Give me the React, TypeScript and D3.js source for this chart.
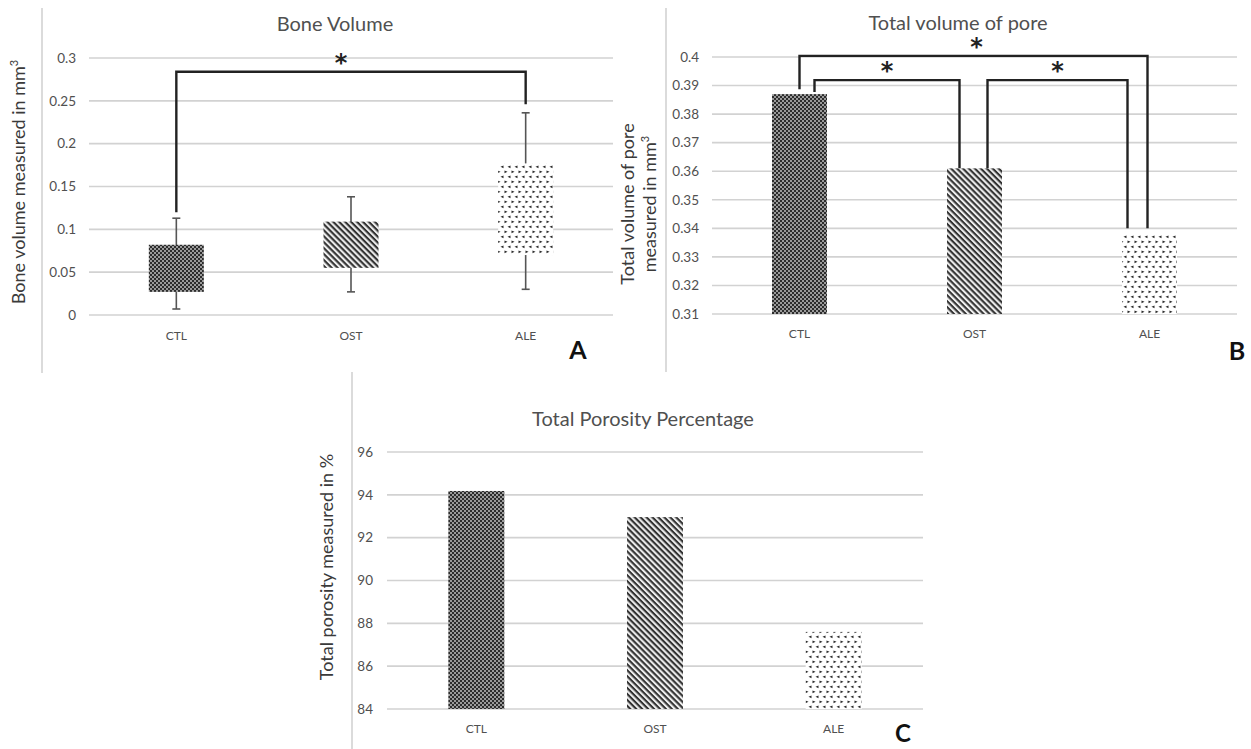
import React from "react";
import * as d3 from "d3";

const categories = ["CTL", "OST", "ALE"];

// Panel A: Bone volume (floating box + whiskers)
const boneBoxLow = [0.027, 0.055, 0.070];
const boneBoxHigh = [0.082, 0.109, 0.177];
const boneWhiskerLow = [0.007, 0.027, 0.030];
const boneWhiskerHigh = [0.113, 0.138, 0.236];
const boneTicks = [0, 0.05, 0.1, 0.15, 0.2, 0.25, 0.3];
const boneTickLabels = ["0", "0.05", "0.1", "0.15", "0.2", "0.25", "0.3"];

// Panel B: Total volume of pore
const poreValues = [0.387, 0.361, 0.3377];
const poreTicks = [0.31, 0.32, 0.33, 0.34, 0.35, 0.36, 0.37, 0.38, 0.39, 0.4];
const poreTickLabels = ["0.31", "0.32", "0.33", "0.34", "0.35", "0.36", "0.37", "0.38", "0.39", "0.4"];

// Panel C: Total porosity percentage
const porosityValues = [94.18, 92.96, 87.6];
const porosityTicks = [84, 86, 88, 90, 92, 94, 96];
const porosityTickLabels = ["84", "86", "88", "90", "92", "94", "96"];

// Significance brackets
const boneSig = [{ from: 0, to: 2, top: 0.284, fromEnd: 0.12, toEnd: 0.246 }];
const poreSig = [
  { from: 0, to: 2, top: 0.4004, fromEnd: 0.3887, toEnd: 0.340 },
  { from: 0, to: 1, top: 0.3919, fromEnd: 0.3877, toEnd: 0.361 },
  { from: 1, to: 2, top: 0.3919, fromEnd: 0.361, toEnd: 0.340 },
];

const patterns = ["pCTL", "pOST", "pALE"];
const FONT = "Lato, 'Open Sans', sans-serif";
const GRID = "#d2d2d2";
const TXT = "#505050";

function Defs() {
  return (
    <defs>
      <pattern id="pCTL" patternUnits="userSpaceOnUse" width={4} height={4}>
        <rect width={4} height={4} fill="#9a9a9a" />
        <rect x={0} y={0} width={2} height={2} fill="#2c2c2c" />
        <rect x={2} y={2} width={2} height={2} fill="#2c2c2c" />
      </pattern>
      <pattern id="pOST" patternUnits="userSpaceOnUse" width={4.2} height={4.2} patternTransform="rotate(45)">
        <rect width={4.2} height={4.2} fill="#eeeeee" />
        <rect x={0} y={0} width={4.2} height={2.1} fill="#333" />
      </pattern>
      <pattern id="pALE" patternUnits="userSpaceOnUse" width={7} height={10}>
        <rect width={7} height={10} fill="#ffffff" />
        <path d="M0.5,0.5 L3.5,1.8 L0.5,3.2 Z" fill="#2a2a2a" />
        <path d="M6.5,5.5 L3.5,6.8 L6.5,8.2 Z" fill="#2a2a2a" />
      </pattern>
    </defs>
  );
}

type Sig = { from: number; to: number; top: number; fromEnd: number; toEnd: number };

function YGrid({ y, ticks, labels, x0, x1, labelX }: any) {
  return (
    <g>
      {ticks.map((t: number, i: number) => (
        <g key={i}>
          <line x1={x0} x2={x1} y1={y(t)} y2={y(t)} stroke={GRID} strokeWidth={1.6} />
          <text x={labelX} y={y(t)} dy="0.35em" textAnchor="end" fontSize={13.5} fill={TXT} fontFamily={FONT}>
            {labels[i]}
          </text>
        </g>
      ))}
    </g>
  );
}

function CatLabels({ x, y }: any) {
  return (
    <g>
      {categories.map((c) => (
        <text key={c} x={x(c)! + x.bandwidth() / 2} y={y} textAnchor="middle" fontSize={12} fill={TXT} fontFamily={FONT}>
          {c}
        </text>
      ))}
    </g>
  );
}

function Brackets({ sigs, x, y, offsets, starDx }: any) {
  const cx = (i: number) => x(categories[i])! + x.bandwidth() / 2;
  return (
    <g>
      {sigs.map((s: Sig, i: number) => {
        const xa = cx(s.from) + offsets[i][0];
        const xb = cx(s.to) + offsets[i][1];
        const yt = y(s.top);
        return (
          <g key={i}>
            <path
              d={`M${xa},${y(s.fromEnd)} V${yt} H${xb} V${y(s.toEnd)}`}
              fill="none"
              stroke="#222"
              strokeWidth={2.4}
            />
            <text x={(xa + xb) / 2 + starDx[i]} y={yt - 1} textAnchor="middle" fontSize={24} fontWeight="bold" fill="#222" fontFamily="'DejaVu Sans', sans-serif">
              *
            </text>
          </g>
        );
      })}
    </g>
  );
}

function PanelA() {
  const x = d3.scaleBand().domain(categories).range([89, 613]);
  const y = d3.scaleLinear().domain([0, 0.3]).range([315, 58]);
  const bw = 55;
  return (
    <g>
      <line x1={42} x2={42} y1={8} y2={373} stroke="#cfcfcf" strokeWidth={1.5} />
      <text x={335} y={31} textAnchor="middle" fontSize={20} fill={TXT} fontFamily={FONT}>Bone Volume</text>
      <text transform="translate(25,182) rotate(-90)" textAnchor="middle" fontSize={18} fill="#3a3a3a" fontFamily={FONT}>
        Bone volume measured in mm<tspan dy="-7" fontSize={11}>3</tspan>
      </text>
      <YGrid y={y} ticks={boneTicks} labels={boneTickLabels} x0={89} x1={613} labelX={76} />
      {categories.map((c, i) => {
        const cx = x(c)! + x.bandwidth() / 2;
        return (
          <g key={c}>
            <line x1={cx} x2={cx} y1={y(boneWhiskerLow[i])} y2={y(boneWhiskerHigh[i])} stroke="#555" strokeWidth={1.6} />
            <line x1={cx - 4} x2={cx + 4} y1={y(boneWhiskerLow[i])} y2={y(boneWhiskerLow[i])} stroke="#555" strokeWidth={1.6} />
            <line x1={cx - 4} x2={cx + 4} y1={y(boneWhiskerHigh[i])} y2={y(boneWhiskerHigh[i])} stroke="#555" strokeWidth={1.6} />
            <rect x={cx - bw / 2} y={y(boneBoxHigh[i])} width={bw} height={y(boneBoxLow[i]) - y(boneBoxHigh[i])} fill={`url(#${patterns[i]})`} />
          </g>
        );
      })}
      <Brackets sigs={boneSig} x={x} y={y} offsets={[[0, 0]]} starDx={[-10]} />
      <CatLabels x={x} y={340} />
      <text x={578} y={359} textAnchor="middle" fontSize={25} fontWeight="bold" fill="#111" fontFamily={FONT}>A</text>
    </g>
  );
}

function PanelB() {
  const x = d3.scaleBand().domain(categories).range([712, 1237]);
  const y = d3.scaleLinear().domain([0.31, 0.4]).range([314, 57]);
  const bw = 55;
  return (
    <g>
      <line x1={666} x2={666} y1={8} y2={372} stroke="#cfcfcf" strokeWidth={1.5} />
      <text x={958} y={30} textAnchor="middle" fontSize={20} fill={TXT} fontFamily={FONT}>Total volume of pore</text>
      <text transform="translate(634,204) rotate(-90)" textAnchor="middle" fontSize={18} fill="#3a3a3a" fontFamily={FONT}>
        <tspan x={0} dy={0}>Total volume of pore</tspan>
        <tspan x={0} dy={22}>measured in mm</tspan>
        <tspan dy="-7" fontSize={11}>3</tspan>
      </text>
      <YGrid y={y} ticks={poreTicks} labels={poreTickLabels} x0={712} x1={1237} labelX={699} />
      {categories.map((c, i) => {
        const cx = x(c)! + x.bandwidth() / 2;
        return (
          <rect key={c} x={cx - bw / 2} y={y(poreValues[i])} width={bw} height={y(0.31) - y(poreValues[i])} fill={`url(#${patterns[i]})`} />
        );
      })}
      <Brackets sigs={poreSig} x={x} y={y} offsets={[[0, -2], [15, -15], [13, -22]]} starDx={[3, 0, 0]} />
      <CatLabels x={x} y={338} />
      <text x={1237} y={360} textAnchor="middle" fontSize={25} fontWeight="bold" fill="#111" fontFamily={FONT}>B</text>
    </g>
  );
}

function PanelC() {
  const x = d3.scaleBand().domain(categories).range([387, 923]);
  const y = d3.scaleLinear().domain([84, 96]).range([709, 452]);
  const bw = 56;
  return (
    <g>
      <line x1={352} x2={352} y1={372} y2={749} stroke="#cfcfcf" strokeWidth={1.5} />
      <text x={643} y={426} textAnchor="middle" fontSize={20} fill={TXT} fontFamily={FONT}>Total Porosity Percentage</text>
      <text transform="translate(333,567) rotate(-90)" textAnchor="middle" fontSize={18} fill="#3a3a3a" fontFamily={FONT}>
        Total porosity measured in %
      </text>
      <YGrid y={y} ticks={porosityTicks} labels={porosityTickLabels} x0={387} x1={923} labelX={373} />
      {categories.map((c, i) => {
        const cx = x(c)! + x.bandwidth() / 2;
        return (
          <rect key={c} x={cx - bw / 2} y={y(porosityValues[i])} width={bw} height={y(84) - y(porosityValues[i])} fill={`url(#${patterns[i]})`} />
        );
      })}
      <CatLabels x={x} y={733} />
      <text x={903} y={742} textAnchor="middle" fontSize={24} fontWeight="bold" fill="#111" fontFamily={FONT}>C</text>
    </g>
  );
}

export default function App() {
  return (
    <svg width={1251} height={749} style={{ position: "absolute", left: 0, top: 0, background: "#fff" }}>
      <Defs />
      <rect width={1251} height={749} fill="#fff" />
      <PanelA />
      <PanelB />
      <PanelC />
    </svg>
  );
}
